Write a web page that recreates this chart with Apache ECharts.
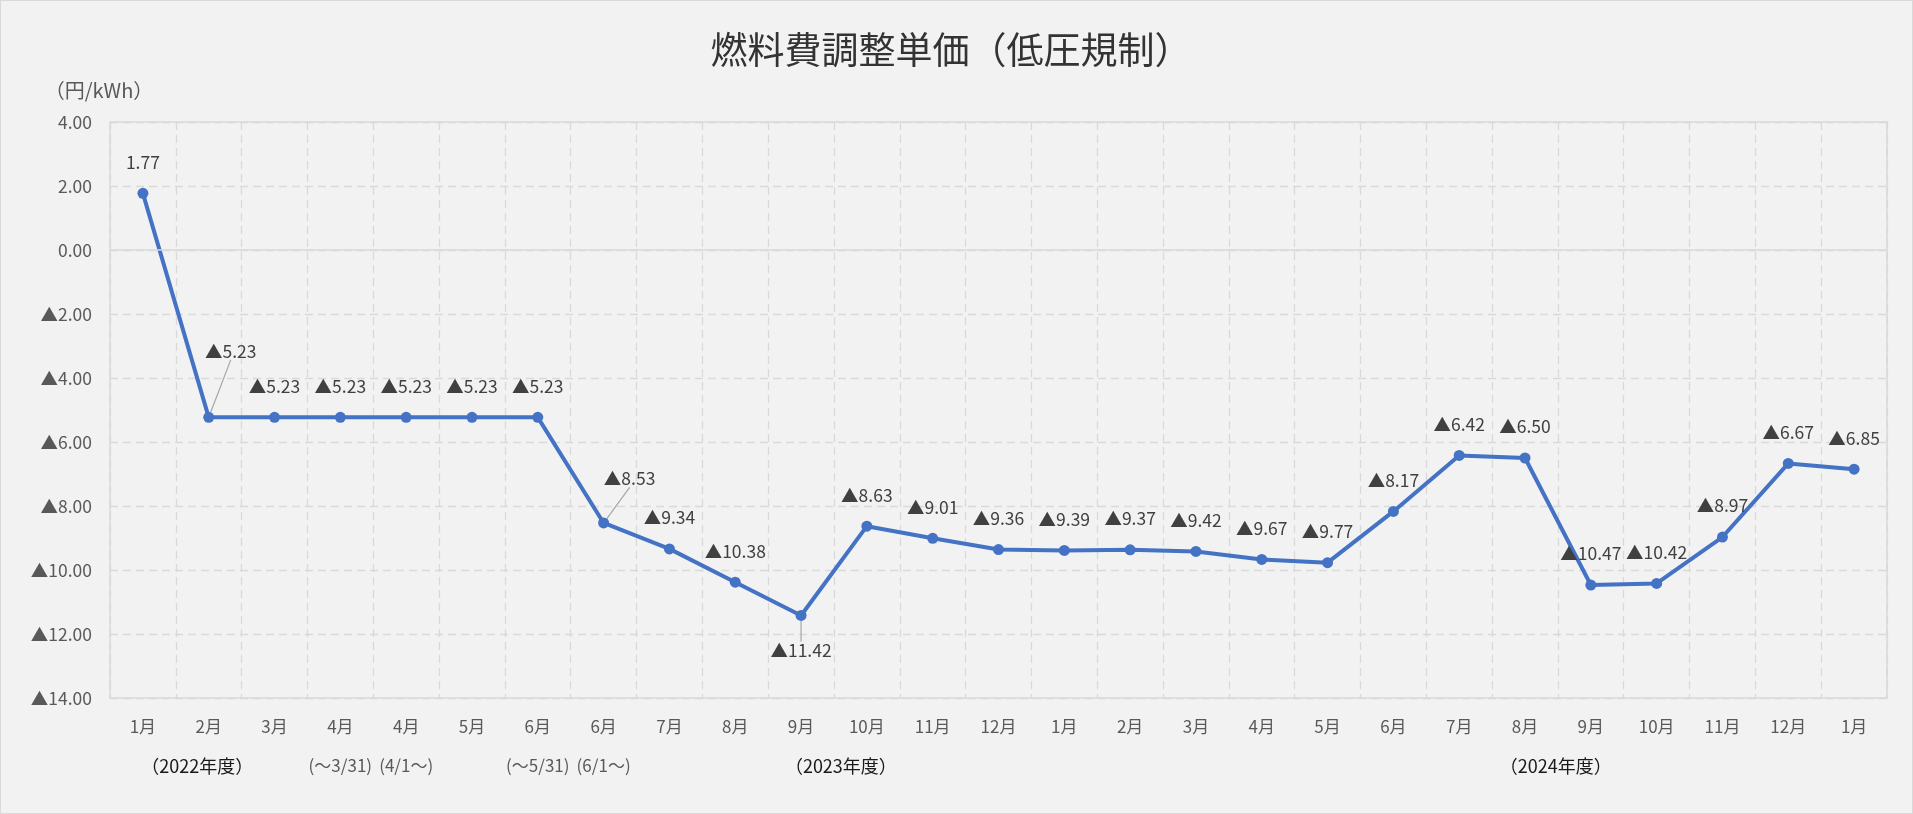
<!DOCTYPE html>
<html>
<head>
<meta charset="utf-8">
<script src="https://cdn.jsdelivr.net/npm/echarts@6/dist/echarts.min.js"></script>
<style>
html,body{margin:0;padding:0;background:#f2f2f2;}
#chart{width:1913px;height:814px;box-sizing:border-box;border:1px solid #d9d9d9;background:#f2f2f2;}
</style>
</head>
<body>
<div id="chart"></div>
<script>
// ---- data ----
const titleText = '燃料費調整単価（低圧規制）';
const yUnit = '（円/kWh）';
const categories = ['1月','2月','3月','4月','4月','5月','6月','6月','7月','8月','9月','10月','11月','12月','1月','2月','3月','4月','5月','6月','7月','8月','9月','10月','11月','12月','1月'];
const subLabels = ['', '（2022年度）', '', '(～3/31)', '(4/1～)', '', '(～5/31)', '(6/1～)', '', '', '', '（2023年度）', '', '', '', '', '', '', '', '', '', '', '（2024年度）', '', '', '', ''];
const values = [1.77, -5.23, -5.23, -5.23, -5.23, -5.23, -5.23, -8.53, -9.34, -10.38, -11.42, -8.63, -9.01, -9.36, -9.39, -9.37, -9.42, -9.67, -9.77, -8.17, -6.42, -6.50, -10.47, -10.42, -8.97, -6.67, -6.85];
const yMin = -14, yMax = 4, yStep = 2;
const baseline = 0;

// ---- presentation ----
const FONT = '"Noto Sans CJK JP", "Noto Sans", sans-serif';
const fmt = v => (v < 0 ? '▲' + Math.abs(v).toFixed(2) : v.toFixed(2));
// label moves (with leader lines) for a few points
const movedLabels = {1: [22, -35], 7: [26, -13], 10: [0, 66]};
// which rich style each sub label uses (year labels are shifted)
const subStyle = {1: 'ya', 11: 'yb', 22: 'yc'};

const chart = echarts.init(document.getElementById('chart'), null, {renderer: 'canvas'});
const option = {
  backgroundColor: '#f2f2f2',
  animation: false,
  title: {
    text: titleText,
    left: 950, top: 27, textAlign: 'center', padding: 0,
    textStyle: {fontFamily: FONT, fontSize: 37, fontWeight: 'normal', color: '#333333', lineHeight: 44}
  },
  grid: {
    left: 109, right: 25, top: 121, bottom: 115,
    show: true, borderColor: '#d9d9d9', borderWidth: 1.5, backgroundColor: 'transparent'
  },
  xAxis: {
    type: 'category',
    data: categories,
    boundaryGap: true,
    axisLine: {show: false, onZero: false},
    axisTick: {show: false},
    splitLine: {show: true, interval: 0, lineStyle: {color: '#d9d9d9', width: 1.3, type: [8, 5]}},
    axisLabel: {
      interval: 0,
      margin: 10,
      formatter: function (val, idx) {
        const s = subLabels[idx];
        if (!s) return '{m|' + val + '}';
        return '{m|' + val + '}\n{' + (subStyle[idx] || 's') + '|' + s + '}';
      },
      rich: {
        m: {fontFamily: FONT, fontSize: 17, color: '#595959', lineHeight: 38},
        s: {fontFamily: FONT, fontSize: 17, color: '#595959', lineHeight: 40},
        ya: {fontFamily: FONT, fontSize: 18, color: '#1a1a1a', lineHeight: 40, padding: [0, 23, 0, 0]},
        yb: {fontFamily: FONT, fontSize: 18, color: '#1a1a1a', lineHeight: 40, padding: [0, 52, 0, 0]},
        yc: {fontFamily: FONT, fontSize: 18, color: '#1a1a1a', lineHeight: 40, padding: [0, 70, 0, 0]}
      }
    }
  },
  yAxis: {
    type: 'value',
    min: yMin, max: yMax, interval: yStep,
    name: yUnit,
    nameLocation: 'end',
    nameGap: 22,
    nameTextStyle: {fontFamily: FONT, fontSize: 20, color: '#595959', padding: [0, 22, 0, 0]},
    axisLine: {show: false},
    axisTick: {show: false},
    splitLine: {show: true, lineStyle: {color: '#d9d9d9', width: 1.3, type: [8, 5]}},
    axisLabel: {
      margin: 18,
      fontFamily: FONT, fontSize: 17.5, color: '#595959',
      formatter: fmt
    }
  },
  series: [{
    type: 'line',
    data: values.map((v, i) => movedLabels[i] ? {value: v, labelLine: {show: true}} : v),
    symbol: 'circle',
    symbolSize: 11,
    lineStyle: {color: '#4472c4', width: 4},
    itemStyle: {color: '#4472c4'},
    label: {
      show: true,
      position: 'top',
      distance: 17,
      fontFamily: FONT, fontSize: 17.5, color: '#404040',
      formatter: p => fmt(p.value)
    },
    labelLine: {show: false, lineStyle: {color: '#a6a6a6', width: 1.2}},
    labelLayout: function (p) {
      const m = movedLabels[p.dataIndex];
      return m ? {dx: m[0], dy: m[1]} : {};
    },
    markLine: {
      silent: true,
      symbol: 'none',
      label: {show: false},
      lineStyle: {color: '#d9d9d9', width: 1.5, type: 'solid'},
      data: [{yAxis: baseline}]
    },
    z: 3
  }]
};
chart.setOption(option);
</script>
</body>
</html>
